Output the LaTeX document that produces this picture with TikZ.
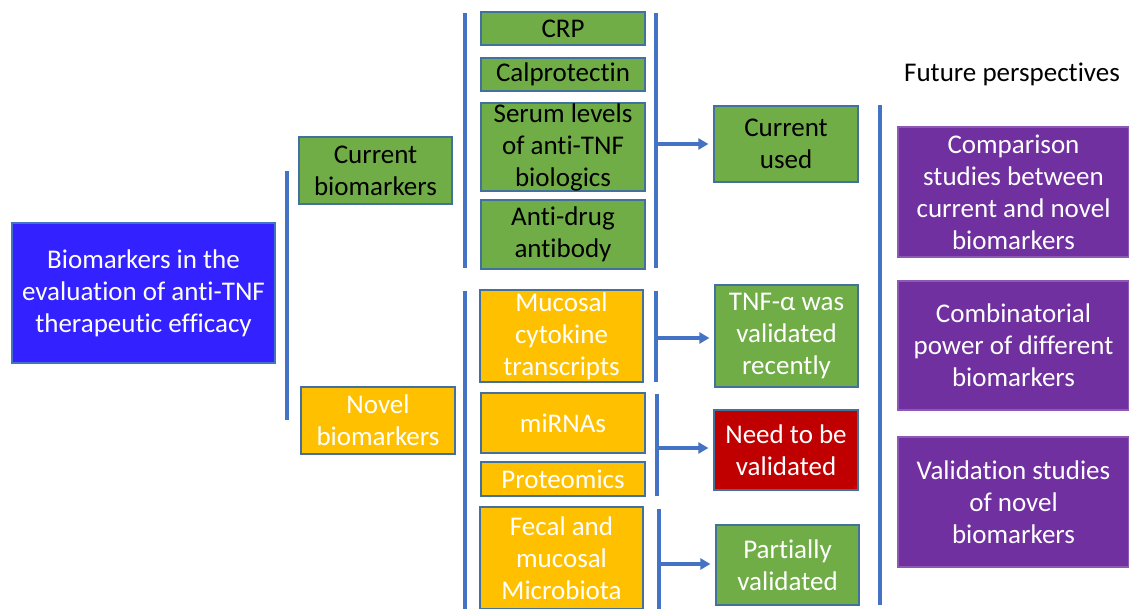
\documentclass[tikz,border=0pt]{standalone}
\usepackage{fontspec}
\setmainfont[Ligatures=NoCommon]{Carlito}
\usetikzlibrary{arrows.meta}
\definecolor{cblue}{HTML}{3322FF}
\definecolor{cgreen}{HTML}{70AD47}
\definecolor{cyellow}{HTML}{FFC000}
\definecolor{cred}{HTML}{C00000}
\definecolor{cpurple}{HTML}{7030A0}
\definecolor{cline}{HTML}{4472C4}
\definecolor{cbord}{HTML}{41719C}
\tikzset{
  box/.style={draw=cbord, line width=1.2pt, align=center, inner sep=0pt,
    font=\fontsize{27}{32}\selectfont},
  gbox/.style={box, fill=cgreen, text=black},
  gwbox/.style={box, fill=cgreen, text=white},
  ybox/.style={box, fill=cyellow, text=white},
  rbox/.style={box, fill=cred, text=white},
  pbox/.style={box, fill=cpurple, text=white, draw=cpurple!80!white},
  mbox/.style={box, fill=cblue, text=white, draw=cline},
  bar/.style={draw=cline, line width=3.3pt},
  arr/.style={draw=cline, line width=3.3pt, -{Triangle[length=10pt,width=11pt]}, shorten >=5pt},
}
\begin{document}
\begin{tikzpicture}[x=1pt,y=-1pt]
\useasboundingbox (0,0) rectangle (1129,609);
% nodes
\node[mbox, minimum width=263pt, minimum height=140pt] (main) at (143.5,293) {Biomarkers in the\\evaluation of anti-TNF\\therapeutic efficacy};
\node[gbox, minimum width=153pt, minimum height=67pt] (cur) at (375.5,170.5) {Current\\biomarkers};
\node[ybox, minimum width=154pt, minimum height=67pt] (nov) at (378,420.5) {Novel\\biomarkers};
\node[gbox, minimum width=164pt, minimum height=33pt] (crp) at (563,28.5) {\raisebox{-2pt}{CRP}};
\node[gbox, minimum width=164pt, minimum height=33pt] (cal) at (563,74.5) {\raisebox{-1pt}{Calprotectin}};
\node[gbox, minimum width=164pt, minimum height=88pt] (ser) at (563,147) {Serum levels\\of anti-TNF\\biologics};
\node[gbox, minimum width=164pt, minimum height=69pt] (adr) at (563,234.5) {Anti-drug\\antibody};
\node[gbox, minimum width=144pt, minimum height=76pt] (cu) at (786,144) {Current\\used};
\node[ybox, minimum width=163pt, minimum height=92pt] (muc) at (561.5,336) {Mucosal\\cytokine\\transcripts};
\node[gwbox, minimum width=143pt, minimum height=102pt] (tnf) at (786.5,336) {TNF-α was\\validated\\recently};
\node[ybox, minimum width=164pt, minimum height=60pt] (mir) at (563,423) {miRNAs};
\node[ybox, minimum width=164pt, minimum height=34pt] (pro) at (563,479) {Proteomics};
\node[rbox, minimum width=144pt, minimum height=80pt] (ned) at (786,450) {Need to be\\validated};
\node[ybox, minimum width=163pt, minimum height=102pt] (fec) at (561.5,558) {Fecal and\\mucosal\\Microbiota};
\node[gwbox, minimum width=143pt, minimum height=80pt] (par) at (787.5,565) {Partially\\validated};
\node[font=\fontsize{27}{32}\selectfont, inner sep=0pt] (fut) at (1012,74) {Future perspectives};
\node[pbox, minimum width=231pt, minimum height=130pt] (p1) at (1013.5,192) {Comparison\\studies between\\current and novel\\biomarkers};
\node[pbox, minimum width=231pt, minimum height=129pt] (p2) at (1013.5,345.5) {Combinatorial\\power of different\\biomarkers};
\node[pbox, minimum width=231pt, minimum height=130pt] (p3) at (1013.5,502) {Validation studies\\of novel\\biomarkers};
% bars
\coordinate (l1t) at (287,171); \coordinate (l1b) at (287,420);
\coordinate (l2at) at (465,13); \coordinate (l2ab) at (465,268);
\coordinate (l2bt) at (465,291); \coordinate (l2bb) at (465,609);
\coordinate (l3at) at (656,13); \coordinate (l3ab) at (656,268);
\coordinate (l3bt) at (656,291); \coordinate (l3bb) at (656,382);
\coordinate (l3ct) at (657,394); \coordinate (l3cb) at (657,496);
\coordinate (l3dt) at (659,509); \coordinate (l3db) at (659,609);
\coordinate (l4t) at (880,105); \coordinate (l4b) at (880,605);
\foreach \a/\b in {l1t/l1b,l2at/l2ab,l2bt/l2bb,l3at/l3ab,l3bt/l3bb,l3ct/l3cb,l3dt/l3db,l4t/l4b}
  \draw[bar] (\a) -- (\b);
% arrows
\coordinate (a1) at (656,144);
\coordinate (a2) at (656,338);
\coordinate (a3) at (657,448);
\coordinate (a4) at (659,564);
\draw[arr] (a1) -- (cu.west |- a1);
\draw[arr] (a2) -- (tnf.west |- a2);
\draw[arr] (a3) -- (ned.west |- a3);
\draw[arr] (a4) -- (par.west |- a4);
\end{tikzpicture}
\end{document}
